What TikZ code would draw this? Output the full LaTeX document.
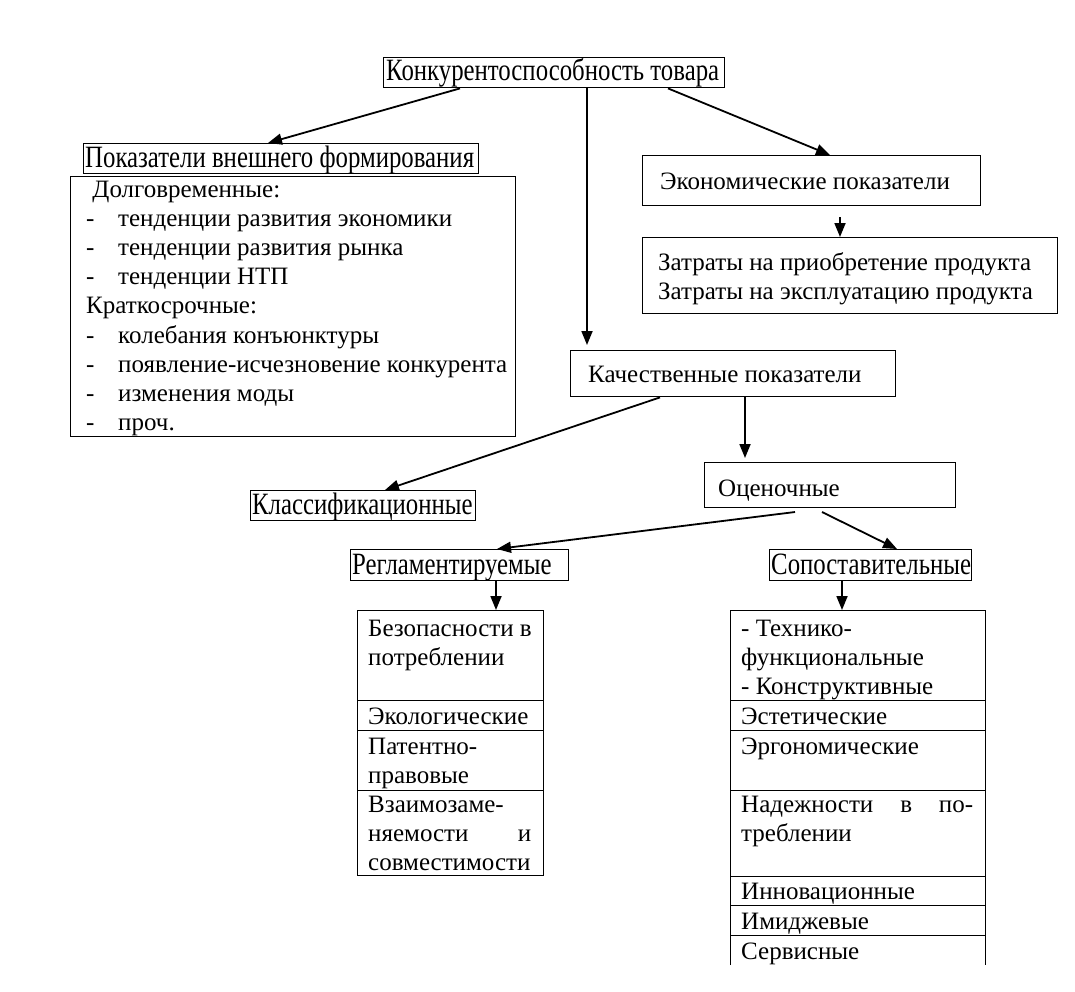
\documentclass[tikz,border=0pt]{standalone}
\usepackage{fontspec}
\setmainfont{Liberation Serif}
\newfontfamily\narrowfont{Liberation Serif}[FakeStretch=0.80]
\usetikzlibrary{arrows.meta}
\newcommand{\dashitem}[1]{\makebox[32pt][l]{-}#1}
\begin{document}
\begin{tikzpicture}[x=1pt,y=-1pt,
  box/.style={draw, line width=1.4pt, inner sep=0pt, anchor=north west},
  cell/.style={draw, line width=1pt, inner sep=0pt, anchor=north west},
  txt/.style={inner sep=0pt, anchor=base west, font=\fontsize{25}{29.2}\selectfont},
  ntxt/.style={inner sep=0pt, anchor=base west, font=\narrowfont\fontsize{31}{31}\selectfont},
  arr/.style={line width=1.8pt, -{Triangle[length=14pt,width=11pt]}}]
\useasboundingbox (0,0) rectangle (1075,991);
% boxes
\node[box, minimum width=341pt, minimum height=30pt] (top) at (383,57) {};
\node[box, minimum width=395pt, minimum height=30pt] (pvf) at (83,143) {};
\node[box, minimum width=445pt, minimum height=260pt] (dol) at (70,176) {};
\node[box, minimum width=338pt, minimum height=50pt] (eco) at (642,155) {};
\node[box, minimum width=415pt, minimum height=76pt] (zat) at (642,237) {};
\node[box, minimum width=325pt, minimum height=46pt] (kach) at (570,350) {};
\node[box, minimum width=225pt, minimum height=30pt] (klas) at (250,490) {};
\node[box, minimum width=251pt, minimum height=45pt] (ocen) at (704,462) {};
\node[box, minimum width=218pt, minimum height=31pt] (regl) at (350,549) {};
\node[box, minimum width=202pt, minimum height=31pt] (sopo) at (769,549) {};
% texts
\node[ntxt] (ttop) at (386,80) {Конкурентоспособность товара};
\node[ntxt] (tpvf) at (85,167) {Показатели внешнего формирования};
\node[txt] (tdol) at (86,197) {\parbox[t]{430pt}{\raggedright\ Долговременные:\\
\dashitem{тенденции развития экономики}\\
\dashitem{тенденции развития рынка}\\
\dashitem{тенденции НТП}\\
Краткосрочные:\\
\dashitem{колебания конъюнктуры}\\
\dashitem{появление-исчезновение конкурента}\\
\dashitem{изменения моды}\\
\dashitem{проч.}}};
\node[txt] (teco) at (660,189) {Экономические показатели};
\node[txt] (tzat) at (658,270) {\parbox[t]{395pt}{\raggedright Затраты на приобретение продукта\\Затраты на эксплуатацию продукта}};
\node[txt] (tkach) at (588,382) {Качественные показатели};
\node[ntxt] (tklas) at (252,514) {Классификационные};
\node[txt] (tocen) at (718,496) {Оценочные};
\node[ntxt] (tregl) at (352,574) {Регламентируемые};
\node[ntxt] (tsopo) at (771,574) {Сопоставительные};
% left table
\node[cell, minimum width=186pt, minimum height=90pt] (l1) at (357,610) {};
\node[cell, minimum width=186pt, minimum height=30pt] (l2) at (357,700) {};
\node[cell, minimum width=186pt, minimum height=60pt] (l3) at (357,730) {};
\node[cell, minimum width=186pt, minimum height=85pt] (l4) at (357,790) {};
\node[txt] (tl1) at (368,636) {\parbox[t]{170pt}{\raggedright Безопасности в\\потреблении}};
\node[txt] (tl2) at (368,724) {Экологические};
\node[txt] (tl3) at (368,754) {\parbox[t]{170pt}{\raggedright Патентно-\\правовые}};
\node[txt] (tl4) at (368,812) {\parbox[t]{163pt}{Взаимозаме-\hfill\null\\няемости\hfill и\\совместимости\hfill\null}};
% right table
\node[cell, minimum width=255pt, minimum height=90pt] (r1) at (730,610) {};
\node[cell, minimum width=255pt, minimum height=30pt] (r2) at (730,700) {};
\node[cell, minimum width=255pt, minimum height=60pt] (r3) at (730,730) {};
\node[cell, minimum width=255pt, minimum height=86pt] (r4) at (730,790) {};
\node[cell, minimum width=255pt, minimum height=29pt] (r5) at (730,876) {};
\node[cell, minimum width=255pt, minimum height=30pt] (r6) at (730,905) {};
\coordinate (r7nw) at (730,935);
\coordinate (r7sw) at (730,965);
\coordinate (r7ne) at (985,935);
\coordinate (r7se) at (985,965);
\draw[line width=1pt] (r7sw) -- (r7nw) -- (r7ne) -- (r7se);
\node[txt] (tr1) at (741,636) {\parbox[t]{240pt}{\raggedright - Технико-\\функциональные\\- Конструктивные}};
\node[txt] (tr2) at (741,724) {Эстетические};
\node[txt] (tr3) at (741,754) {Эргономические};
\node[txt] (tr4) at (741,812) {\parbox[t]{232pt}{Надежности\hfill в\hfill по-\\треблении\hfill\null}};
\node[txt] (tr5) at (741,899) {Инновационные};
\node[txt] (tr6) at (741,929) {Имиджевые};
\node[txt] (tr7) at (741,959) {Сервисные};
% arrows
\draw[arr] (460,0 |- top.south) -- (268,0 |- pvf.north);
\draw[arr] (587,0 |- top.south) -- (587,345);
\draw[arr] (668,0 |- top.south) -- (830,0 |- eco.north);
\draw[arr] (840,217) -- (840,0 |- zat.north);
\draw[arr] (660,0 |- kach.south) -- (385,0 |- klas.north);
\draw[arr] (745,0 |- kach.south) -- (745,458);
\draw[arr] (795,512) -- (497,0 |- regl.north);
\draw[arr] (822,512) -- (897,0 |- sopo.north);
\draw[arr] (496,0 |- regl.south) -- (496,0 |- l1.north);
\draw[arr] (842,0 |- sopo.south) -- (842,0 |- r1.north);
\end{tikzpicture}
\end{document}
